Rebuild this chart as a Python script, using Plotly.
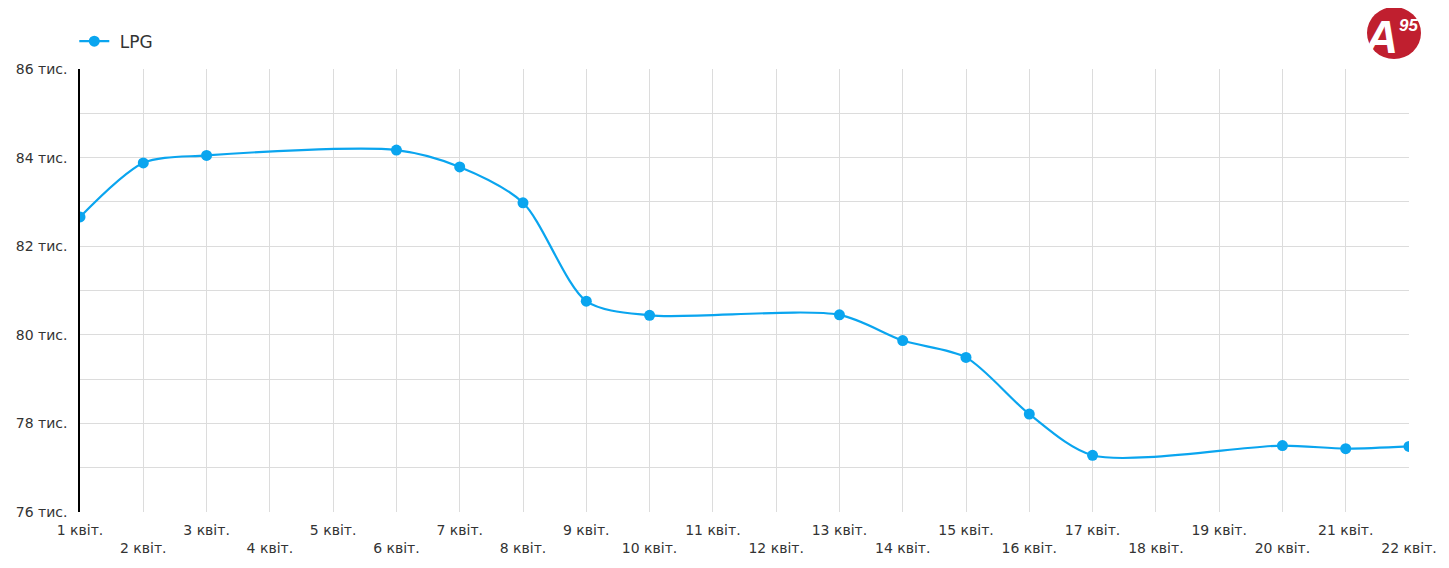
import plotly.graph_objects as go

# LPG, days of April
days = [1, 2, 3, 6, 7, 8, 9, 10, 13, 14, 15, 16, 17, 20, 21, 22]
lpg = [82.66, 83.88, 84.05, 84.17, 83.79, 82.98, 80.76, 80.44, 80.45,
       79.87, 79.49, 78.21, 77.28, 77.50, 77.43, 77.48]

tick_days = list(range(1, 23))
tick_labels = [f"{d} квіт." if d % 2 else f"<br>{d} квіт." for d in tick_days]
y_ticks = [76, 78, 80, 82, 84, 86]
y_labels = [f"{v} тис." for v in y_ticks]

line_color = "#0aa5ef"

fig = go.Figure()
fig.add_trace(go.Scatter(
    x=days, y=lpg, name="\u00a0LPG",
    mode="lines+markers",
    line=dict(color=line_color, width=2.2, shape="spline", smoothing=0.8),
    marker=dict(color=line_color, size=11),
))

# page body adds 8px, so sizes are trimmed to land the plot at 80..1409 x 69..512
fig.update_layout(
    width=1441, height=560,
    margin=dict(l=72, r=40, t=61, b=56, autoexpand=False),
    paper_bgcolor="white", plot_bgcolor="white",
    font=dict(family="DejaVu Sans, sans-serif", size=14, color="#333"),
    showlegend=True,
    legend=dict(x=0.046, xref="container", xanchor="left",
                y=0.94, yref="container", yanchor="middle",
                orientation="h", font=dict(size=17, color="#333"),
                bgcolor="rgba(0,0,0,0)"),
)

fig.update_xaxes(
    range=[1, 22], tickvals=tick_days, ticktext=tick_labels,
    showgrid=True, gridcolor="#dcdcdc", gridwidth=1,
    zeroline=False, showline=False, ticks="", automargin=False,
    ticklabelstandoff=8,
)
fig.update_yaxes(
    range=[76, 86], tickvals=y_ticks, ticktext=y_labels,
    showgrid=True, gridcolor="#dcdcdc", gridwidth=1,
    minor=dict(dtick=1, showgrid=True, gridcolor="#dcdcdc", gridwidth=1),
    zeroline=False, showline=True, linecolor="black", linewidth=1.5,
    ticks="", ticklabelstandoff=8, automargin=False,
)

# A95 logo
fig.add_shape(type="circle", xref="paper", yref="paper",
              xsizemode="pixel", ysizemode="pixel",
              xanchor=1.0, yanchor=1.0,
              x0=-42, x1=12, y0=10, y1=62,
              fillcolor="#c01f2f", line=dict(width=0), layer="below")
fig.add_annotation(xref="paper", yref="paper", x=1.0, y=1.0,
                   xanchor="center", yanchor="middle",
                   xshift=-28, yshift=32,
                   text="<b><i>A</i></b>", showarrow=False,
                   font=dict(family="Liberation Sans, Arial", size=46, color="white"))
fig.add_annotation(xref="paper", yref="paper", x=1.0, y=1.0,
                   xshift=-1, yshift=44,
                   xanchor="center", yanchor="middle",
                   text="<b><i>95</i></b>", showarrow=False,
                   font=dict(family="Liberation Sans, Arial", size=17, color="white"))

fig.write_html("out.html")
